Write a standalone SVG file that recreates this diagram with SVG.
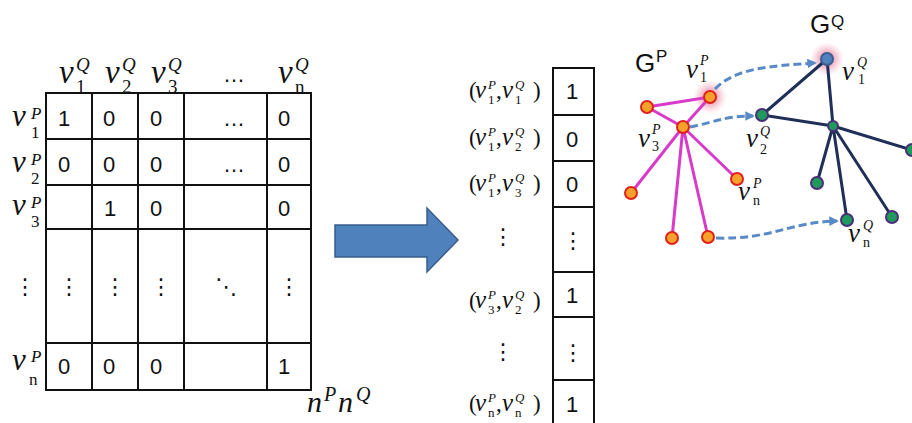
<svg xmlns="http://www.w3.org/2000/svg" width="912" height="423" viewBox="0 0 912 423">
<style>
.mi{font-family:"Liberation Serif",serif;font-style:italic;fill:#111}
.up{font-style:normal}
.num{font-family:"Liberation Sans",sans-serif;font-size:22px;fill:#111}
.dots{font-family:"DejaVu Sans",sans-serif;font-size:22px;fill:#111;text-anchor:middle}
.grid{stroke:#111;stroke-width:2;fill:none}
.pe{stroke:#D83BC9;stroke-width:3;stroke-linecap:round}
.qe{stroke:#1F2F58;stroke-width:3;stroke-linecap:round}
.pn{fill:#F6A12A;stroke:#E0201A;stroke-width:2}
.qn{fill:#1F9A5C;stroke:#4A2F7A;stroke-width:2}
.dash{stroke:#5A8AC6;stroke-width:3;stroke-dasharray:8 4;fill:none}
.g{font-family:"Liberation Sans",sans-serif;fill:#111}
.h{font-size:33px}.hs{font-size:19px}
.r{font-size:31px}.rs{font-size:17px}
.vl{font-size:25px}.vs{font-size:13px}.vp{font-size:23px;font-style:normal}
.gl{font-size:27px}.gs{font-size:14px}
</style>
<defs>
<radialGradient id="glow"><stop offset="0.3" stop-color="#E57A9A" stop-opacity="0.75"/><stop offset="1" stop-color="#F2B0C0" stop-opacity="0"/></radialGradient>
<marker id="ah" viewBox="0 0 10 10" refX="8" refY="5" markerWidth="3.2" markerHeight="3.2" orient="auto"><path d="M0,0 L10,5 L0,10 z" fill="#5A8AC6"/></marker>
</defs>

<g id="matrix">
<rect class="grid" x="46" y="93" width="265" height="297"/>
<path class="grid" d="M92,93V390M138,93V390M184,93V390M267,93V390M46,139H311M46,185H311M46,229H311M46,343H311"/>
<text class="num" x="58" y="126">1</text><text class="num" x="103" y="126">0</text><text class="num" x="150" y="126">0</text><text class="num" x="223" y="126">…</text><text class="num" x="278" y="126">0</text>
<text class="num" x="58" y="172">0</text><text class="num" x="103" y="172">0</text><text class="num" x="150" y="172">0</text><text class="num" x="223" y="172">…</text><text class="num" x="278" y="172">0</text>
<text class="num" x="104" y="216">1</text><text class="num" x="150" y="216">0</text><text class="num" x="278" y="216">0</text>
<text class="dots" x="69" y="294">⋮</text><text class="dots" x="115" y="294">⋮</text><text class="dots" x="161" y="294">⋮</text><text class="dots" x="226" y="294">⋱</text><text class="dots" x="289" y="294">⋮</text>
<text class="num" x="58" y="374">0</text><text class="num" x="103" y="374">0</text><text class="num" x="150" y="374">0</text><text class="num" x="278" y="374">1</text>
</g>

<g id="col-headers">
<text class="mi h" x="59" y="83">v<tspan class="hs" x="76" y="71">Q</tspan><tspan class="hs up" x="76" y="93">1</tspan></text>
<text class="mi h" x="105" y="83">v<tspan class="hs" x="122" y="71">Q</tspan><tspan class="hs up" x="122" y="93">2</tspan></text>
<text class="mi h" x="151" y="83">v<tspan class="hs" x="168" y="71">Q</tspan><tspan class="hs up" x="168" y="93">3</tspan></text>
<text class="num" x="223" y="82">…</text>
<text class="mi h" x="278" y="83">v<tspan class="hs" x="295" y="71">Q</tspan><tspan class="hs up" x="295" y="93">n</tspan></text>
</g>

<g id="row-headers">
<text class="mi r" x="12" y="126">v<tspan class="rs" x="31" y="119">P</tspan><tspan class="rs up" x="31" y="138">1</tspan></text>
<text class="mi r" x="12" y="172">v<tspan class="rs" x="31" y="165">P</tspan><tspan class="rs up" x="31" y="184">2</tspan></text>
<text class="mi r" x="12" y="215">v<tspan class="rs" x="31" y="208">P</tspan><tspan class="rs up" x="31" y="227">3</tspan></text>
<text class="dots" x="25" y="294">⋮</text>
<text class="mi r" x="12" y="370">v<tspan class="rs" x="31" y="362">P</tspan><tspan class="rs up" x="29" y="385">n</tspan></text>
</g>

<g id="size-label">
<text class="mi" font-size="30" x="307" y="412">n<tspan font-size="20" x="324" y="401">P</tspan><tspan x="338" y="412">n</tspan><tspan font-size="20" x="356" y="401">Q</tspan></text>
</g>

<g id="big-arrow">
<polygon points="335,225 427,225 427,208 458,240 427,272 427,257 335,257" fill="#4F81BD" stroke="#385D8A" stroke-width="1.5"/>
</g>

<g id="vector">
<rect class="grid" x="553" y="68" width="41" height="370"/>
<path class="grid" d="M553,115H594M553,161H594M553,207H594M553,272H594M553,317H594M553,380H594"/>
<text class="num" x="566" y="99">1</text>
<text class="num" x="566" y="147">0</text>
<text class="num" x="566" y="192">0</text>
<text class="dots" x="573" y="248">⋮</text>
<text class="num" x="566" y="303">1</text>
<text class="dots" x="573" y="360">⋮</text>
<text class="num" x="566" y="412">1</text>
</g>

<g id="vector-labels">
<text class="mi vl" x="469" y="98"><tspan class="vp">(</tspan><tspan x="475">v</tspan><tspan class="vs" x="488" y="89">P</tspan><tspan class="vs up" x="488" y="104">1</tspan><tspan class="vp" x="496" y="98">,</tspan><tspan x="502">v</tspan><tspan class="vs" x="515" y="89">Q</tspan><tspan class="vs up" x="515" y="104">1</tspan><tspan class="vp" x="533" y="98">)</tspan></text>
<text class="mi vl" x="469" y="145"><tspan class="vp">(</tspan><tspan x="475">v</tspan><tspan class="vs" x="488" y="136">P</tspan><tspan class="vs up" x="488" y="151">1</tspan><tspan class="vp" x="496" y="145">,</tspan><tspan x="502">v</tspan><tspan class="vs" x="515" y="136">Q</tspan><tspan class="vs up" x="515" y="151">2</tspan><tspan class="vp" x="533" y="145">)</tspan></text>
<text class="mi vl" x="469" y="191"><tspan class="vp">(</tspan><tspan x="475">v</tspan><tspan class="vs" x="488" y="182">P</tspan><tspan class="vs up" x="488" y="197">1</tspan><tspan class="vp" x="496" y="191">,</tspan><tspan x="502">v</tspan><tspan class="vs" x="515" y="182">Q</tspan><tspan class="vs up" x="515" y="197">3</tspan><tspan class="vp" x="533" y="191">)</tspan></text>
<text class="dots" x="503" y="244" font-size="18">⋮</text>
<text class="mi vl" x="469" y="308"><tspan class="vp">(</tspan><tspan x="475">v</tspan><tspan class="vs" x="488" y="299">P</tspan><tspan class="vs up" x="488" y="314">3</tspan><tspan class="vp" x="496" y="308">,</tspan><tspan x="502">v</tspan><tspan class="vs" x="515" y="299">Q</tspan><tspan class="vs up" x="515" y="314">2</tspan><tspan class="vp" x="533" y="308">)</tspan></text>
<text class="dots" x="503" y="359" font-size="18">⋮</text>
<text class="mi vl" x="469" y="411"><tspan class="vp">(</tspan><tspan x="475">v</tspan><tspan class="vs" x="488" y="402">P</tspan><tspan class="vs up" x="488" y="417">n</tspan><tspan class="vp" x="496" y="411">,</tspan><tspan x="502">v</tspan><tspan class="vs" x="515" y="402">Q</tspan><tspan class="vs up" x="515" y="417">n</tspan><tspan class="vp" x="533" y="411">)</tspan></text>
</g>

<g id="glows">
<circle cx="710" cy="97" r="17" fill="url(#glow)"/>
<circle cx="827" cy="59" r="17" fill="url(#glow)"/>
</g>

<g id="connectors">
<path class="pe" d="M647,107L710,97M647,107L683,127M710,97L683,127M683,127L631,193M683,127L672,238M683,127L708,237M683,127L737,179"/>
<path class="qe" d="M827,59L762,115M827,59L833,126M762,115L833,126M833,126L912,150M833,126L817,183M833,126L847,220M833,126L892,217"/>
<path class="dash" d="M715,89C735,68 770,66 815,63" marker-end="url(#ah)"/>
<path class="dash" d="M690,127C715,122 725,116 753,116" marker-end="url(#ah)"/>
<path class="dash" d="M716,238C770,240 790,222 837,221" marker-end="url(#ah)"/>
</g>

<g id="GP-nodes">
<circle class="pn" cx="647" cy="107" r="6"/>
<circle class="pn" cx="710" cy="97" r="6"/>
<circle class="pn" cx="683" cy="127" r="6"/>
<circle class="pn" cx="737" cy="179" r="6"/>
<circle class="pn" cx="631" cy="193" r="6"/>
<circle class="pn" cx="672" cy="238" r="6"/>
<circle class="pn" cx="708" cy="237" r="6"/>
</g>
<g id="GQ-nodes">
<circle cx="827" cy="59" r="6" fill="#4F81BD" stroke="#3A5F8F" stroke-width="2"/>
<circle class="qn" cx="762" cy="115" r="6"/>
<circle class="qn" cx="833" cy="126" r="5"/>
<circle class="qn" cx="912" cy="150" r="6"/>
<circle class="qn" cx="817" cy="183" r="6"/>
<circle class="qn" cx="847" cy="220" r="6"/>
<circle class="qn" cx="892" cy="217" r="6"/>
</g>

<g id="graph-labels">
<text class="g" font-size="26" x="635" y="72">G<tspan font-size="17" x="656" y="62">P</tspan></text>
<text class="g" font-size="26" x="810" y="33">G<tspan font-size="17" x="831" y="27">Q</tspan></text>
<text class="mi gl" x="686" y="78">v<tspan class="gs" x="700" y="65">P</tspan><tspan class="gs up" x="700" y="82">1</tspan></text>
<text class="mi gl" x="638" y="147">v<tspan class="gs" x="652" y="134">P</tspan><tspan class="gs up" x="652" y="151">3</tspan></text>
<text class="mi gl" x="746" y="147">v<tspan class="gs" x="760" y="136">Q</tspan><tspan class="gs up" x="760" y="154">2</tspan></text>
<text class="mi gl" x="842" y="80">v<tspan class="gs" x="857" y="67">Q</tspan><tspan class="gs up" x="858" y="84">1</tspan></text>
<text class="mi gl" x="738" y="200">v<tspan class="gs" x="753" y="188">P</tspan><tspan class="gs up" x="753" y="205">n</tspan></text>
<text class="mi gl" x="848" y="242">v<tspan class="gs" x="863" y="230">Q</tspan><tspan class="gs up" x="863" y="247">n</tspan></text>
</g>
</svg>
